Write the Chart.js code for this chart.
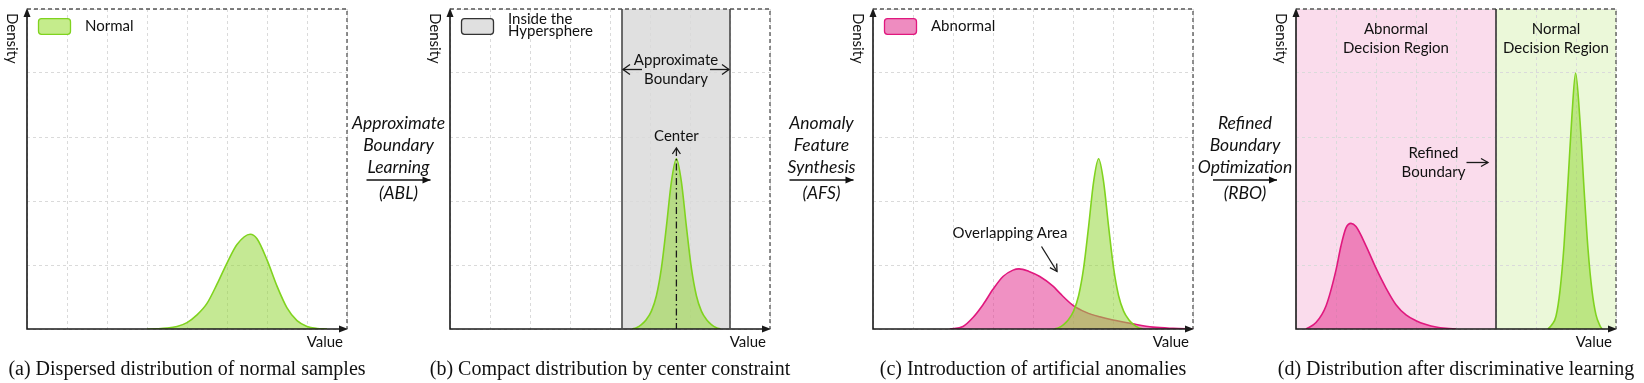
<!DOCTYPE html>
<html>
<head>
<meta charset="utf-8">
<script src="https://cdn.jsdelivr.net/npm/chart.js@4.4.0/dist/chart.umd.min.js"></script>
<style>
  html, body { margin: 0; padding: 0; background: #fff; }
  #wrap { position: relative; width: 1644px; height: 383px; }
  #wrap canvas { position: absolute; left: 0; top: 0; }
</style>
</head>
<body>
<div id="wrap">
  <canvas id="panelA" width="1644" height="383"></canvas>
  <canvas id="panelB" width="1644" height="383"></canvas>
  <canvas id="panelC" width="1644" height="383"></canvas>
  <canvas id="panelD" width="1644" height="383"></canvas>
</div>
<script>
// values (x: 0..8 "Value", y: 0..5 "Density")
const seriesNames = ['Normal', 'Abnormal'];

// (a) dispersed normal samples
const normalA_x = [3.0, 3.25, 3.5, 3.75, 4.0, 4.25, 4.5, 4.75, 5.0, 5.25, 5.58, 5.75, 6.0, 6.25, 6.5, 6.75, 7.0, 7.25, 7.5];
const normalA_y = [0, 0.004, 0.014, 0.04, 0.10, 0.22, 0.40, 0.70, 1.03, 1.32, 1.48, 1.41, 1.08, 0.67, 0.33, 0.13, 0.04, 0.008, 0];

// (b) compact normal samples
const normalB_x = [4.56, 4.66, 4.785, 4.91, 5.035, 5.16, 5.285, 5.41, 5.535, 5.66, 5.785, 5.91, 6.035, 6.16, 6.285, 6.41, 6.535, 6.66, 6.76];
const normalB_y = [0, 0.02, 0.07, 0.15, 0.28, 0.52, 0.95, 1.6, 2.3, 2.66, 2.3, 1.6, 0.95, 0.52, 0.28, 0.15, 0.07, 0.02, 0];

// (c) normal + synthesized anomalies
const normalC_x = [4.54, 4.64, 4.765, 4.89, 5.015, 5.14, 5.265, 5.39, 5.515, 5.64, 5.765, 5.89, 6.015, 6.14, 6.265, 6.39, 6.515, 6.64, 6.74];
const normalC_y = [0, 0.02, 0.07, 0.15, 0.28, 0.52, 0.95, 1.6, 2.3, 2.66, 2.3, 1.6, 0.95, 0.52, 0.28, 0.15, 0.07, 0.02, 0];
const abnormalC_x = [1.92, 2.25, 2.5, 2.75, 3.0, 3.25, 3.5, 3.65, 3.9, 4.17, 4.5, 4.67, 5.0, 5.33, 5.67, 6.0, 6.5, 7.0, 7.5, 8.0];
const abnormalC_y = [0, 0.04, 0.18, 0.38, 0.62, 0.82, 0.92, 0.94, 0.9, 0.82, 0.67, 0.56, 0.37, 0.26, 0.19, 0.14, 0.08, 0.03, 0.01, 0];

// (d) after refinement
const abnormalD_x = [0.25, 0.5, 0.75, 1.0, 1.125, 1.25, 1.375, 1.5, 1.75, 2.0, 2.25, 2.5, 2.75, 3.0, 3.25, 3.5, 3.75, 4.0];
const abnormalD_y = [0, 0.1, 0.36, 0.92, 1.3, 1.58, 1.65, 1.6, 1.3, 0.95, 0.64, 0.38, 0.22, 0.13, 0.07, 0.03, 0.01, 0];
const normalD_x = [6.3, 6.4, 6.5, 6.6, 6.7, 6.8, 6.9, 6.99, 7.1, 7.2, 7.3, 7.4, 7.5, 7.6, 7.65];
const normalD_y = [0, 0.07, 0.2, 0.6, 1.3, 2.3, 3.35, 4.0, 3.25, 2.2, 1.25, 0.6, 0.22, 0.05, 0];

// boundaries (in Value units)
const sphereB = [4.3, 7.0];
const centerB = 5.66;
const refinedD = 5.0;

const captions = [
    '(a) Dispersed distribution of normal samples',
    '(b) Compact distribution by center constraint',
    '(c) Introduction of artificial anomalies',
    '(d) Distribution after discriminative learning'
];
const steps = [
    ['Approximate', 'Boundary', 'Learning', '(ABL)'],
    ['Anomaly', 'Feature', 'Synthesis', '(AFS)'],
    ['Refined', 'Boundary', 'Optimization', '(RBO)']
];

const W = 1644, H = 383, TOP = 9, BOTTOM = 329;
const GREEN_LINE = '#80d31f', GREEN_FILL = 'rgba(150,215,60,0.55)', GREEN_BOX = '#c5ec8c';
const PINK_LINE = '#e0187e', PINK_FILL = 'rgba(228,55,145,0.55)', PINK_BOX = '#ee8cc0';
const SANS = 'Lato, "Open Sans", sans-serif';
const LABEL = '15px ' + SANS;
const STEP = 'italic 17.5px ' + SANS;

function pts(xs, ys) {
    return xs.map(function (x, i) { return { x: x, y: ys[i] }; });
}

function curve(label, xs, ys, line, fill) {
    return {
        label: label,
        data: pts(xs, ys),
        borderColor: line,
        backgroundColor: fill,
        borderWidth: 1.6,
        fill: 'origin',
        pointRadius: 0,
        cubicInterpolationMode: 'monotone'
    };
}

function arrowHead(ctx, x, y, angle, len, wid, filled) {
    ctx.save();
    ctx.translate(x, y);
    ctx.rotate(angle);
    ctx.beginPath();
    ctx.moveTo(-len, -wid);
    ctx.lineTo(0, 0);
    ctx.lineTo(-len, wid);
    if (filled) { ctx.closePath(); ctx.fill(); } else { ctx.stroke(); }
    ctx.restore();
}

function arrow(ctx, x1, y1, x2, y2, filled, len, wid) {
    ctx.beginPath();
    ctx.moveTo(x1, y1);
    ctx.lineTo(x2, y2);
    ctx.stroke();
    arrowHead(ctx, x2, y2, Math.atan2(y2 - y1, x2 - x1), len || 7, wid || 4, filled);
}

function text(ctx, str, x, y, font, align) {
    ctx.font = font;
    ctx.textAlign = align || 'center';
    ctx.textBaseline = 'middle';
    ctx.fillText(str, x, y);
}

function legendBox(ctx, left, fill, stroke, lines) {
    ctx.save();
    ctx.fillStyle = fill;
    ctx.strokeStyle = stroke;
    ctx.lineWidth = 1.3;
    ctx.beginPath();
    ctx.roundRect(left + 11.5, 18.7, 32, 15.6, 3);
    ctx.fill();
    ctx.stroke();
    ctx.fillStyle = '#111';
    if (lines.length === 1) {
        text(ctx, lines[0], left + 58, 26.5, LABEL, 'left');
    } else {
        text(ctx, lines[0], left + 58, 19, LABEL, 'left');
        text(ctx, lines[1], left + 58, 31.5, LABEL, 'left');
    }
    ctx.restore();
}

function stepLabel(ctx, cx, lines) {
    ctx.save();
    ctx.fillStyle = '#111';
    ctx.strokeStyle = '#111';
    ctx.lineWidth = 1.3;
    text(ctx, lines[0], cx, 123, STEP);
    text(ctx, lines[1], cx, 145, STEP);
    text(ctx, lines[2], cx, 167, STEP);
    arrow(ctx, cx - 32, 180, cx + 32, 180, true, 8, 3.5);
    text(ctx, lines[3], cx, 193.5, STEP);
    ctx.restore();
}

function makePanel(id, left, right, datasets, caption, under, over) {
    const axisGrid = { color: '#dadada', lineWidth: 1, drawTicks: false };
    const axisBorder = { display: false, dash: [3, 3] };
    try {
        return new Chart(document.getElementById(id), {
            type: 'line',
            data: { datasets: datasets },
            options: {
                responsive: false,
                animation: false,
                events: [],
                layout: { padding: { left: left, right: W - right, top: TOP, bottom: H - BOTTOM } },
                plugins: { legend: { display: false }, tooltip: { enabled: false } },
                scales: {
                    x: { type: 'linear', min: 0, max: 8, ticks: { display: false, stepSize: 1 }, grid: axisGrid, border: axisBorder },
                    y: { type: 'linear', min: 0, max: 5, ticks: { display: false, stepSize: 1 }, grid: axisGrid, border: axisBorder }
                }
            },
            plugins: [{
                id: 'deco',
                beforeDraw: function (chart) {
                    if (under) under(chart.ctx, chart.chartArea, chart.scales.x, chart.scales.y);
                },
                afterDraw: function (chart) {
                    const ctx = chart.ctx, a = chart.chartArea;
                    ctx.save();
                    // dashed frame top/right
                    ctx.strokeStyle = '#555';
                    ctx.lineWidth = 1.3;
                    ctx.setLineDash([4, 3]);
                    ctx.beginPath();
                    ctx.moveTo(a.left, a.top);
                    ctx.lineTo(a.right, a.top);
                    ctx.lineTo(a.right, a.bottom);
                    ctx.stroke();
                    ctx.setLineDash([]);
                    // axes with arrow tips
                    ctx.strokeStyle = '#1a1a1a';
                    ctx.fillStyle = '#1a1a1a';
                    ctx.lineWidth = 1.6;
                    ctx.beginPath();
                    ctx.moveTo(a.left, a.top + 4);
                    ctx.lineTo(a.left, a.bottom);
                    ctx.lineTo(a.right - 4, a.bottom);
                    ctx.stroke();
                    arrowHead(ctx, a.left, a.top - 1, -Math.PI / 2, 9, 3.5, true);
                    arrowHead(ctx, a.right + 1, a.bottom, 0, 9, 3.5, true);
                    // axis names
                    ctx.fillStyle = '#111';
                    text(ctx, 'Value', a.right - 4, 342, LABEL, 'right');
                    ctx.save();
                    ctx.translate(a.left - 15, 13);
                    ctx.rotate(Math.PI / 2);
                    text(ctx, 'Density', 0, 0, LABEL, 'left');
                    ctx.restore();
                    // caption
                    text(ctx, caption, (a.left + a.right) / 2, 370, '20px "Liberation Serif", "Times New Roman", serif');
                    ctx.restore();
                    if (over) {
                        ctx.save();
                        over(ctx, a, chart.scales.x, chart.scales.y);
                        ctx.restore();
                    }
                }
            }]
        });
    } catch (error) {
        console.log(error);
    }
}

// (a)
makePanel('panelA', 27, 347,
    [curve(seriesNames[0], normalA_x, normalA_y, GREEN_LINE, GREEN_FILL)],
    captions[0], null,
    function (ctx, a) {
        legendBox(ctx, a.left, GREEN_BOX, GREEN_LINE, [seriesNames[0]]);
    });

// (b)
makePanel('panelB', 450, 770,
    [curve(seriesNames[0], normalB_x, normalB_y, GREEN_LINE, GREEN_FILL)],
    captions[1],
    function (ctx, a, x) {
        const x0 = x.getPixelForValue(sphereB[0]), x1 = x.getPixelForValue(sphereB[1]);
        ctx.save();
        ctx.fillStyle = '#e0e0e0';
        ctx.fillRect(x0, a.top, x1 - x0, a.bottom - a.top);
        ctx.restore();
    },
    function (ctx, a, x) {
        const x0 = x.getPixelForValue(sphereB[0]), x1 = x.getPixelForValue(sphereB[1]);
        const cx = x.getPixelForValue(centerB);
        ctx.strokeStyle = '#4a4a4a';
        ctx.lineWidth = 1.6;
        ctx.beginPath();
        ctx.moveTo(x0, a.top); ctx.lineTo(x0, a.bottom);
        ctx.moveTo(x1, a.top); ctx.lineTo(x1, a.bottom);
        ctx.stroke();
        // approximate boundary arrows
        ctx.strokeStyle = '#1a1a1a';
        ctx.fillStyle = '#111';
        ctx.lineWidth = 1.3;
        arrow(ctx, x0 + 20, 69.5, x0 + 1, 69.5, false, 7, 5);
        arrow(ctx, x1 - 20, 69.5, x1 - 1, 69.5, false, 7, 5);
        text(ctx, 'Approximate', (x0 + x1) / 2, 60, LABEL);
        text(ctx, 'Boundary', (x0 + x1) / 2, 79.5, LABEL);
        // center
        ctx.setLineDash([7, 3, 1.5, 3]);
        ctx.beginPath();
        ctx.moveTo(cx, 149); ctx.lineTo(cx, a.bottom);
        ctx.stroke();
        ctx.setLineDash([]);
        arrowHead(ctx, cx, 148, -Math.PI / 2, 6, 4, false);
        text(ctx, 'Center', cx, 136.5, LABEL);
        legendBox(ctx, a.left, '#e0e0e0', '#333', ['Inside the', 'Hypersphere']);
        stepLabel(ctx, 398.5, steps[0]);
    });

// (c)
makePanel('panelC', 873, 1193,
    [curve(seriesNames[0], normalC_x, normalC_y, GREEN_LINE, GREEN_FILL),
     curve(seriesNames[1], abnormalC_x, abnormalC_y, PINK_LINE, PINK_FILL)],
    captions[2], null,
    function (ctx, a) {
        ctx.fillStyle = '#111';
        ctx.strokeStyle = '#1a1a1a';
        ctx.lineWidth = 1.3;
        text(ctx, 'Overlapping Area', 1010, 233.5, LABEL);
        arrow(ctx, 1041.5, 246.5, 1057, 271.5, false, 7, 4);
        legendBox(ctx, a.left, PINK_BOX, PINK_LINE, [seriesNames[1]]);
        stepLabel(ctx, 821.5, steps[1]);
    });

// (d)
makePanel('panelD', 1296, 1616,
    [curve(seriesNames[0], normalD_x, normalD_y, GREEN_LINE, GREEN_FILL),
     curve(seriesNames[1], abnormalD_x, abnormalD_y, PINK_LINE, PINK_FILL)],
    captions[3],
    function (ctx, a, x) {
        const bx = x.getPixelForValue(refinedD);
        ctx.save();
        ctx.fillStyle = '#fadcec';
        ctx.fillRect(a.left, a.top, bx - a.left, a.bottom - a.top);
        ctx.fillStyle = '#ebf8d9';
        ctx.fillRect(bx, a.top, a.right - bx, a.bottom - a.top);
        ctx.restore();
    },
    function (ctx, a, x) {
        const bx = x.getPixelForValue(refinedD);
        ctx.strokeStyle = '#333';
        ctx.lineWidth = 1.6;
        ctx.beginPath();
        ctx.moveTo(bx, a.top); ctx.lineTo(bx, a.bottom);
        ctx.stroke();
        ctx.fillStyle = '#111';
        text(ctx, 'Abnormal', (a.left + bx) / 2, 29.5, LABEL);
        text(ctx, 'Decision Region', (a.left + bx) / 2, 48.5, LABEL);
        text(ctx, 'Normal', (bx + a.right) / 2, 29.5, LABEL);
        text(ctx, 'Decision Region', (bx + a.right) / 2, 48.5, LABEL);
        text(ctx, 'Refined', 1433.5, 153.5, LABEL);
        text(ctx, 'Boundary', 1433.5, 172.5, LABEL);
        ctx.strokeStyle = '#1a1a1a';
        ctx.lineWidth = 1.3;
        arrow(ctx, 1466.5, 162.5, 1488, 162.5, false, 7, 4);
        stepLabel(ctx, 1245, steps[2]);
    });
</script>
</body>
</html>
